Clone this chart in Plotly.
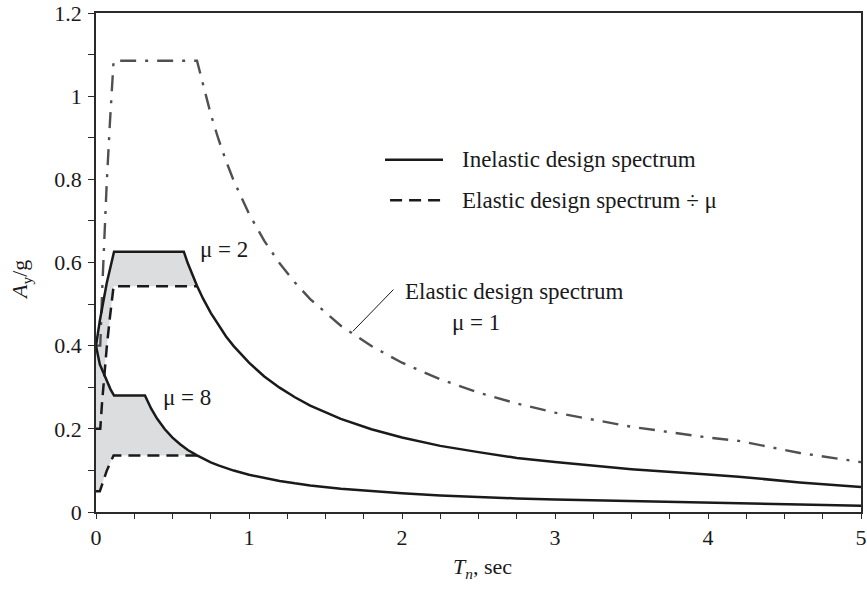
import plotly.graph_objects as go

# ---- Data ----
# Elastic design spectrum (mu = 1), dash-dot
T_el = [0, 0.028, 0.04, 0.055, 0.07, 0.09, 0.115, 0.66, 0.7, 0.75, 0.8, 0.85, 0.9, 1.0, 1.1, 1.2,
        1.3, 1.4, 1.6, 1.8, 2.0, 2.25, 2.5, 2.75, 3.0, 3.5, 4.0, 4.2, 4.6, 5.0]
A_el = [0.4, 0.4, 0.53, 0.68, 0.79, 0.93, 1.085, 1.085, 1.025, 0.957, 0.897, 0.844, 0.797, 0.717, 0.652, 0.598,
        0.552, 0.512, 0.448, 0.399, 0.359, 0.319, 0.287, 0.261, 0.239, 0.205, 0.179, 0.171, 0.142, 0.120]

# Inelastic design spectrum, mu = 2 (solid)
T_in2 = [0, 0.012, 0.025, 0.045, 0.07, 0.095, 0.118, 0.574, 0.6, 0.66, 0.7, 0.75, 0.8, 0.85, 0.9, 1.0,
         1.1, 1.2, 1.3, 1.4, 1.6, 1.8, 2.0, 2.25, 2.5, 2.75, 3.0, 3.5, 4.0, 4.2, 4.6, 5.0]
A_in2 = [0.4, 0.43, 0.46, 0.50, 0.55, 0.59, 0.626, 0.626, 0.598, 0.544, 0.513, 0.479, 0.449, 0.422, 0.399, 0.359,
         0.326, 0.299, 0.276, 0.256, 0.224, 0.199, 0.179, 0.159, 0.144, 0.130, 0.120, 0.103, 0.090, 0.085, 0.071, 0.060]

# Elastic design spectrum / mu, mu = 2 (dashed)
T_el2 = [0, 0.028, 0.04, 0.055, 0.07, 0.09, 0.115, 0.66]
A_el2 = [0.2, 0.2, 0.265, 0.34, 0.395, 0.465, 0.543, 0.543]

# Inelastic design spectrum, mu = 8 (solid)
T_in8 = [0, 0.012, 0.025, 0.045, 0.07, 0.095, 0.118, 0.32, 0.36, 0.4, 0.45, 0.5, 0.55, 0.6, 0.66, 0.7,
         0.75, 0.8, 0.85, 0.9, 1.0, 1.1, 1.2, 1.3, 1.4, 1.6, 1.8, 2.0, 2.25, 2.5, 2.75, 3.0, 3.5, 4.0, 4.2, 4.6, 5.0]
A_in8 = [0.4, 0.375, 0.355, 0.338, 0.315, 0.295, 0.28, 0.28, 0.249, 0.224, 0.199, 0.179, 0.163, 0.149, 0.136, 0.128,
         0.1195, 0.112, 0.1054, 0.0996, 0.0896, 0.0815, 0.0747, 0.0689, 0.064, 0.056, 0.0498, 0.0448, 0.0398, 0.0358,
         0.0326, 0.0299, 0.0256, 0.0224, 0.0213, 0.0178, 0.0151]

# Elastic design spectrum / mu, mu = 8 (dashed)
T_el8 = [0, 0.025, 0.04, 0.055, 0.07, 0.09, 0.115, 0.66]
A_el8 = [0.05, 0.05, 0.066, 0.085, 0.099, 0.116, 0.136, 0.136]

x_tickvals = [0, 1, 2, 3, 4, 5]
y_tickvals = [0, 0.2, 0.4, 0.6, 0.8, 1.0, 1.2]

FONT = "Liberation Serif"
FILL = "rgb(220,221,223)"
INK = "#1a1a1a"

fig = go.Figure()


def shaded(T_solid, A_solid, T_dash, A_dash):
    k = T_solid.index(T_dash[-1])
    xs = T_solid[:k + 1] + T_dash[::-1]
    ys = A_solid[:k + 1] + A_dash[::-1]
    fig.add_trace(go.Scatter(x=xs, y=ys, fill="toself", fillcolor=FILL, mode="none",
                             hoverinfo="skip", showlegend=False))


shaded(T_in2, A_in2, T_el2, A_el2)
shaded(T_in8, A_in8, T_el8, A_el8)

fig.add_trace(go.Scatter(x=T_el, y=A_el, mode="lines", showlegend=False,
                         line=dict(color="#505050", width=2.4, dash="16px,9px,3px,9px")))
fig.add_trace(go.Scatter(x=T_el2, y=A_el2, mode="lines", showlegend=False,
                         line=dict(color=INK, width=2.5, dash="12px,7px")))
fig.add_trace(go.Scatter(x=T_el8, y=A_el8, mode="lines", showlegend=False,
                         line=dict(color=INK, width=2.5, dash="12px,7px")))
fig.add_trace(go.Scatter(x=T_in2, y=A_in2, mode="lines", showlegend=False,
                         line=dict(color=INK, width=2.5)))
fig.add_trace(go.Scatter(x=T_in8, y=A_in8, mode="lines", showlegend=False,
                         line=dict(color=INK, width=2.5)))

# custom legend keys
fig.add_shape(type="line", xref="x", yref="y", x0=1.889, x1=2.268, y0=0.847, y1=0.847,
              line=dict(color=INK, width=2.5))
fig.add_shape(type="line", xref="x", yref="y", x0=1.922, x1=2.268, y0=0.7495, y1=0.7495,
              line=dict(color=INK, width=2.5, dash="12px,7px"))
# leader line for elastic spectrum label
fig.add_shape(type="line", xref="x", yref="y", x0=1.679, x1=1.944, y0=0.4346, y1=0.5349,
              line=dict(color=INK, width=1))

tf = dict(family=FONT, size=23, color=INK)
ann = [
    dict(x=2.38, y=0.847, text="Inelastic design spectrum", xanchor="left"),
    dict(x=2.38, y=0.7495, text="Elastic design spectrum ÷ μ", xanchor="left"),
    dict(x=2.005, y=0.531, text="Elastic design spectrum", xanchor="left"),
    dict(x=2.314, y=0.4555, text="μ = 1", xanchor="left"),
    dict(x=0.839, y=0.631, text="μ = 2", xanchor="center"),
    dict(x=0.597, y=0.275, text="μ = 8", xanchor="center"),
]
for a in ann:
    fig.add_annotation(xref="x", yref="y", yanchor="middle", showarrow=False, font=tf, **a)

# axis titles
fig.add_annotation(xref="paper", yref="paper", x=0.5046, y=-0.112, text="<i>T<sub>n</sub></i>, sec",
                   showarrow=False, xanchor="center", yanchor="middle", font=dict(family=FONT, size=22, color=INK))
fig.add_annotation(xref="paper", yref="paper", x=-0.098, y=0.465, text="<i>A</i><sub>y</sub>/g",
                   showarrow=False, xanchor="center", yanchor="middle", textangle=-90,
                   font=dict(family=FONT, size=22, color=INK))

axis_common = dict(showgrid=False, zeroline=False, showline=True, linecolor="#2a2a2a", linewidth=1.5,
                   mirror=True, ticks="outside", tickcolor="#2a2a2a", tickwidth=1.3, automargin=False,
                   ticklabeloverflow="allow", tickfont=dict(family=FONT, size=22, color=INK))

fig.update_xaxes(range=[0, 5], tickvals=x_tickvals, ticklen=5,
                 minor=dict(dtick=0.25, ticks="outside", ticklen=5, tickcolor="#2a2a2a", tickwidth=1.3),
                 **axis_common)
fig.update_yaxes(range=[0, 1.2], tickvals=y_tickvals, ticklen=6, ticklabelstandoff=2,
                 minor=dict(dtick=0.1, ticks="outside", ticklen=6, tickcolor="#2a2a2a", tickwidth=1.3),
                 **axis_common)

fig.update_layout(width=867, height=598, margin=dict(l=96, r=6, t=13, b=86, autoexpand=False),
                  plot_bgcolor="white", paper_bgcolor="white", showlegend=False)

# remove the browser's default page margin so the figure fills the window exactly
fig.write_html("out.html", config={"displayModeBar": False},
               post_script="document.body.style.margin='0';")
